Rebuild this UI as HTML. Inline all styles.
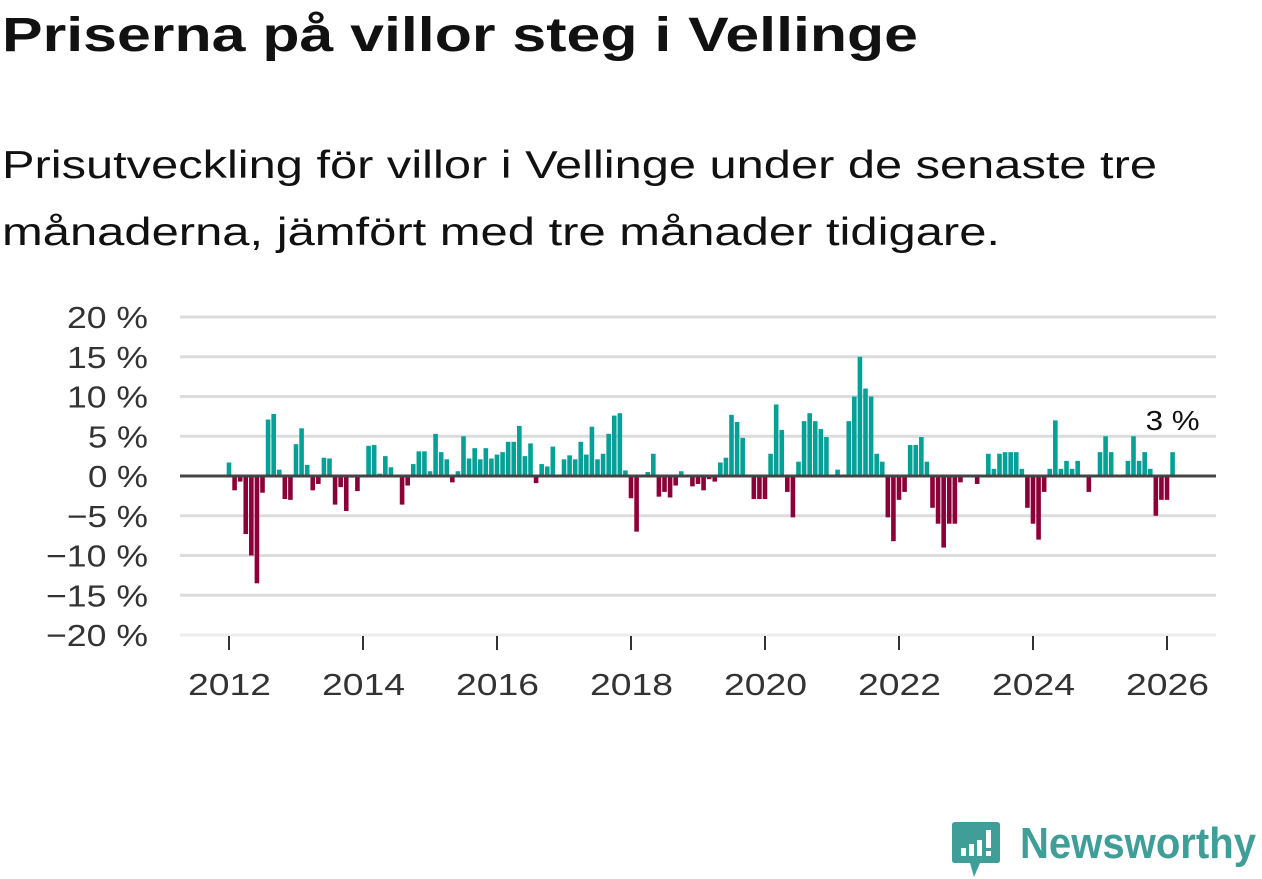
<!DOCTYPE html>
<html><head><meta charset="utf-8"><style>
body{margin:0;width:1262px;height:879px;background:#fff;overflow:hidden;font-family:"Liberation Sans","DejaVu Sans",sans-serif;color:#111}
.fit{position:absolute;white-space:nowrap;transform-origin:0 0;margin:0}
svg{position:absolute;left:0;top:0}
</style></head><body>
<div class="fit" id="title" style="left:2px;top:8px;font-size:48px;font-weight:bold;color:#111" data-w="916">Priserna på villor steg i Vellinge</div>
<div class="fit" id="sub1" style="left:2px;top:144px;font-size:39px;color:#111" data-w="1155">Prisutveckling för villor i Vellinge under de senaste tre</div>
<div class="fit" id="sub2" style="left:2px;top:211px;font-size:39px;color:#111" data-w="998">månaderna, jämfört med tre månader tidigare.</div>
<svg id="chart" width="1262" height="879"></svg>
<script>
const startYear = 2012;
const values = [1.7,-1.8,-0.7,-7.3,-10,-13.5,-2.1,7.1,7.8,0.8,-2.9,-3.0,
4.0,6.0,1.4,-1.8,-1.0,2.3,2.2,-3.6,-1.4,-4.4,-0.2,-1.9,
0,3.8,3.9,0.3,2.5,1.1,0,-3.6,-1.2,1.5,3.1,3.1,
0.6,5.3,3.0,2.1,-0.8,0.6,5.0,2.2,3.5,2.1,3.5,2.2,
2.7,3.0,4.3,4.3,6.3,2.5,4.1,-0.9,1.5,1.2,3.7,0,
2.1,2.6,2.1,4.3,2.7,6.2,2.1,2.8,5.3,7.6,7.9,0.7,
-2.8,-7.0,0,0.5,2.8,-2.6,-2.0,-2.7,-1.2,0.6,0,-1.3,
-1.0,-1.8,-0.4,-0.7,1.7,2.3,7.7,6.8,4.8,0,-2.9,-2.9,
-2.9,2.8,9.0,5.8,-2.0,-5.2,1.8,6.9,7.9,6.9,5.9,4.9,
0,0.8,0,6.9,10,15,11,10,2.8,1.8,-5.2,-8.2,
-3.0,-2.0,3.9,3.9,4.9,1.8,-4.0,-6.0,-9.0,-6.0,-6.0,-0.8,
0,0,-1.0,0,2.8,0.9,2.8,3.0,3.0,3.0,0.9,-4.0,
-6.0,-8.0,-2.0,0.9,7.0,0.9,1.9,0.9,1.9,0,-2.0,0,
3.0,5.0,3.0,0,0,1.9,5.0,1.9,3.0,0.9,-5.0,-3.0,
-3.0,3.0];
const yTicks = [20,15,10,5,0,-5,-10,-15,-20];
const xTicks = [2012,2014,2016,2018,2020,2022,2024,2026];
const lastLabel = "3 %";

const NS="http://www.w3.org/2000/svg";
const svg=document.getElementById('chart');
const x0=229, monthW=67/12, y0=476, pxPct=7.95;
const xOf=m=>x0+m*monthW;
const yOf=v=>y0-v*pxPct;
function mk(t,a){const e=document.createElementNS(NS,t);for(const k in a)e.setAttribute(k,a[k]);svg.appendChild(e);return e;}
yTicks.forEach(v=>{
  if(v!==0){const l=mk('line',{x1:180,x2:1216,y1:yOf(v),y2:yOf(v),stroke:v===-20?'#ececec':'#dcdcdc','stroke-width':3});
  
  }
  const s=String(Math.abs(v));
  const w=(v<0?21:0)+s.length*21+39;
  const t=mk('text',{x:148-w,y:yOf(v)+11,'font-size':31,fill:'#333',textLength:w,lengthAdjust:'spacingAndGlyphs'});
  t.textContent=(v<0?'\u2212':'')+s+' %';
  
  
});
values.forEach((v,i)=>{
  if(v===0)return;
  const y=yOf(Math.max(v,0)),h=Math.abs(v)*pxPct;
  const r=mk('rect',{x:xOf(i)-2.3,y:y,width:4.6,height:h,fill:v>0?'#05a197':'#8c0039'});
  
  
});
const zl=mk('line',{x1:180,x2:1216,y1:y0,y2:y0,stroke:'#444','stroke-width':3});


xTicks.forEach(yr=>{
  const m=(yr-startYear)*12;
  const tk=mk('line',{x1:xOf(m),x2:xOf(m),y1:636,y2:650,stroke:'#333','stroke-width':2});
  
  
  const t=mk('text',{x:xOf(m)-41,y:695,'font-size':31,fill:'#333',textLength:83,lengthAdjust:'spacingAndGlyphs'});
  t.textContent=yr;
  
  
});
const li=values.length-1;
const lt=mk('text',{x:xOf(li)-27,y:yOf(values[li])-22,'font-size':28,fill:'#111',stroke:'#fff','stroke-width':6,'paint-order':'stroke',textLength:54,lengthAdjust:'spacingAndGlyphs'});
lt.textContent=lastLabel;


</script>
<div style="position:absolute;left:952px;top:820px;width:305px;height:58px">
<svg width="50" height="58" style="position:absolute;left:0;top:0">
<path d="M3 2 H45 Q48 2 48 5 V40 Q48 43 45 43 H28 L22 57 L18 43 H3 Q0 43 0 40 V5 Q0 2 3 2Z" fill="#3f9e98"/>
<rect x="9" y="28" width="5" height="8" fill="#fff"/><rect x="17" y="24" width="5" height="12" fill="#fff"/><rect x="25" y="20" width="5" height="16" fill="#fff"/><rect x="34" y="10" width="5" height="18" fill="#fff"/><rect x="34" y="31" width="5" height="5" fill="#fff"/>
</svg>
<span class="fit" id="logo" data-w="236" style="left:68px;top:-1px;font-size:44px;font-weight:bold;color:#3f9e98">Newsworthy</span>
</div>
<script>
document.querySelectorAll('.fit[data-w]').forEach(el=>{
  const w=el.getBoundingClientRect().width;
  el.style.transform='scaleX('+(parseFloat(el.getAttribute('data-w'))/w)+')';
});
</script>
</body></html>
